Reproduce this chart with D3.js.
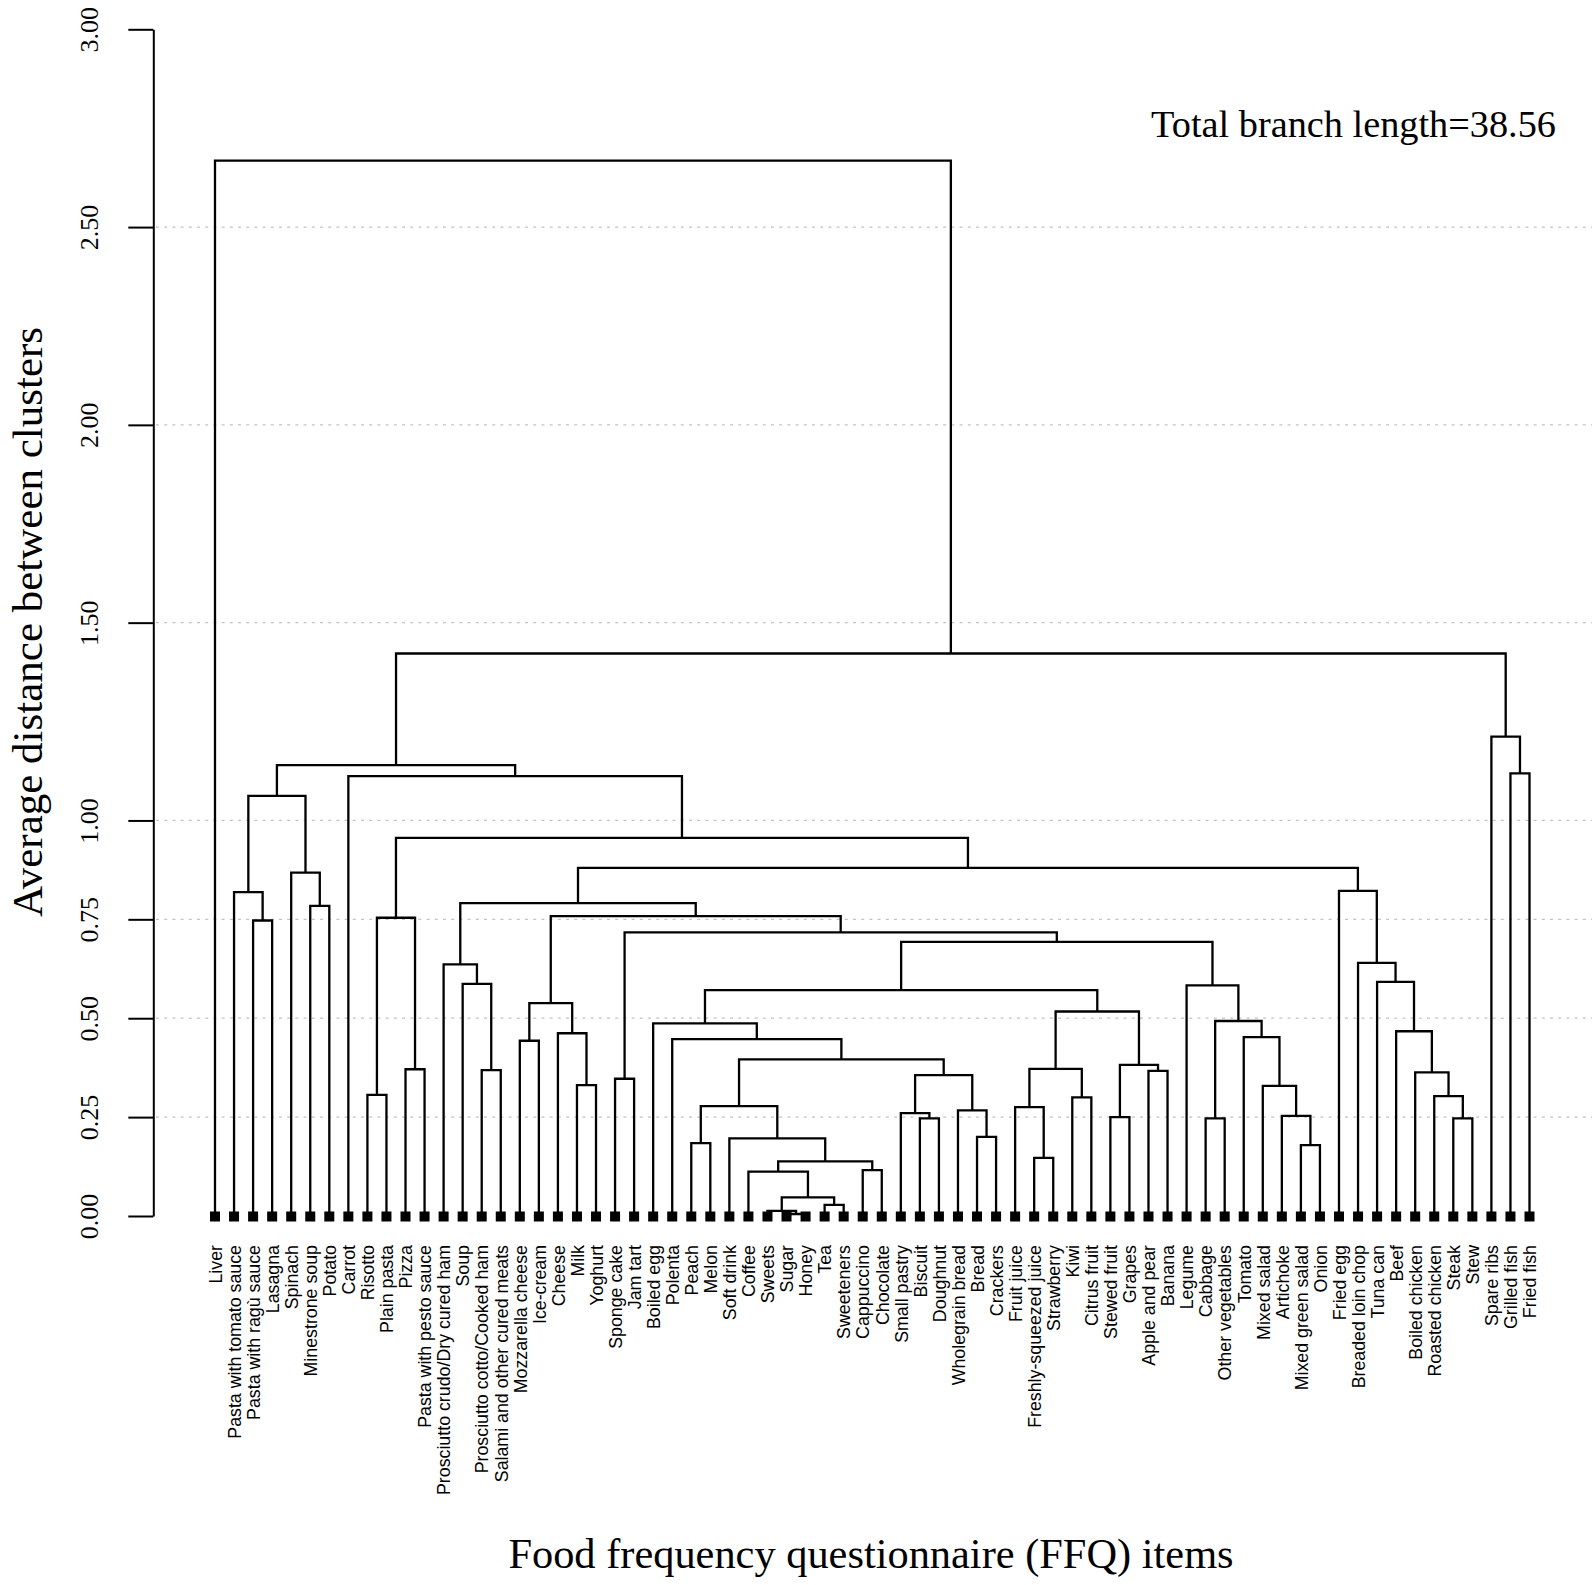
<!DOCTYPE html>
<html>
<head>
<meta charset="utf-8">
<script src="https://cdn.jsdelivr.net/npm/d3@7"></script>
<style>
body { margin: 0; background: #fff; }
</style>
</head>
<body>
<script>
// leaf labels, left to right
var labels = [
  "Liver", "Pasta with tomato sauce", "Pasta with ragù sauce", "Lasagna", "Spinach",
  "Minestrone soup", "Potato", "Carrot", "Risotto", "Plain pasta", "Pizza",
  "Pasta with pesto sauce", "Prosciutto crudo/Dry cured ham", "Soup",
  "Prosciutto cotto/Cooked ham", "Salami and other cured meats", "Mozzarella cheese",
  "Ice-cream", "Cheese", "Milk", "Yoghurt", "Sponge cake", "Jam tart", "Boiled egg",
  "Polenta", "Peach", "Melon", "Soft drink", "Coffee", "Sweets", "Sugar", "Honey", "Tea",
  "Sweeteners", "Cappuccino", "Chocolate", "Small pastry", "Biscuit", "Doughnut",
  "Wholegrain bread", "Bread", "Crackers", "Fruit juice", "Freshly-squeezed juice",
  "Strawberry", "Kiwi", "Citrus fruit", "Stewed fruit", "Grapes", "Apple and pear",
  "Banana", "Legume", "Cabbage", "Other vegetables", "Tomato", "Mixed salad", "Artichoke",
  "Mixed green salad", "Onion", "Fried egg", "Breaded loin chop", "Tuna can", "Beef",
  "Boiled chicken", "Roasted chicken", "Steak", "Stew", "Spare ribs", "Grilled fish",
  "Fried fish"
];

// hclust-like merge table: negative = leaf number, positive = earlier merge row
var merges = [
  [-31, -32], [-30, 1], [-33, -34], [2, 3], [-29, 4], [-35, -36], [5, 6], [-44, -45],
  [-58, -59], [-26, -27], [-28, 7], [-41, -42], [-38, -39], [-53, -54], [-66, -67],
  [-48, -49], [-57, 9], [-37, 13], [-40, 12], [-43, 8], [10, 11], [-46, -47], [-65, 15],
  [-9, -10], [-56, 17], [-20, -21], [-22, -23], [18, 19], [-64, 23], [-50, -51],
  [-15, -16], [-11, -12], [20, 22], [16, 30], [21, 28], [-17, -18], [-25, 35], [-55, 25],
  [-19, 26], [-63, 29], [-24, 37], [14, 38], [33, 34], [36, 39], [41, 43], [-52, 42],
  [-14, 31], [-62, 40], [-13, 47], [-61, 48], [45, 46], [27, 51], [24, 32], [-3, -4],
  [44, 52], [-6, -7], [49, 55], [-2, 54], [-60, 50], [-5, 56], [57, 59], [53, 61],
  [58, 60], [-8, 62], [-69, -70], [63, 64], [-68, 65], [66, 67], [-1, 68]
];

var heights = [
  0.005, 0.013, 0.028, 0.047, 0.112, 0.116, 0.138, 0.147,
  0.179, 0.184, 0.196, 0.200, 0.247, 0.247, 0.247,
  0.250, 0.253, 0.260, 0.267, 0.275, 0.278, 0.300, 0.303,
  0.306, 0.329, 0.331, 0.347, 0.356, 0.363, 0.367,
  0.369, 0.371, 0.372, 0.382, 0.396, 0.443, 0.447, 0.452,
  0.462, 0.467, 0.487, 0.493, 0.517, 0.538, 0.571, 0.583,
  0.587, 0.592, 0.636, 0.640, 0.693, 0.717, 0.754, 0.747,
  0.758, 0.784, 0.791, 0.819, 0.822, 0.868, 0.880, 0.956,
  1.062, 1.112, 1.119, 1.140, 1.212, 1.422, 2.668
];

var yTicks = [0, 0.25, 0.5, 0.75, 1, 1.5, 2, 2.5, 3];
var gridValues = [0.25, 0.5, 0.75, 1, 1.5, 2, 2.5];

var W = 1595, H = 1585;
var serif = "'Liberation Serif', 'Times New Roman', serif";
var sans = "'Liberation Sans', Arial, sans-serif";

var svg = d3.select("body").append("svg")
    .attr("width", W)
    .attr("height", H)
    .style("background", "#fff");

var x = d3.scalePoint().domain(labels).range([215, 1529.5]);
var y = d3.scaleLinear().domain([0, 3]).range([1216, 29.3]);

// dashed grid
svg.append("g")
    .selectAll("line")
    .data(gridValues)
    .enter()
    .append("line")
    .attr("x1", 156)
    .attr("x2", 1592)
    .attr("y1", function(d) { return y(d); })
    .attr("y2", function(d) { return y(d); })
    .style("stroke", "#c4c4c4")
    .style("stroke-width", 1.3)
    .style("stroke-dasharray", "3,5.2");

// y axis
var yAxis = svg.append("g")
    .attr("transform", "translate(153.3,0)")
    .call(d3.axisLeft(y).tickValues(yTicks).tickFormat(d3.format(".2f")).tickSize(25).tickSizeOuter(0));

yAxis.select(".domain").style("stroke", "#000").style("stroke-width", 2);
yAxis.selectAll(".tick line").style("stroke", "#000").style("stroke-width", 2);
yAxis.selectAll(".tick text")
    .attr("transform", "rotate(-90)")
    .attr("x", 0)
    .attr("y", -55)
    .attr("dy", 0)
    .attr("text-anchor", "middle")
    .style("font-family", serif)
    .style("font-size", "26px")
    .style("fill", "#000");

// build the tree from the merge table
var nodes = [];
function getNode(k) {
    if (k < 0) return {x: x(labels[-k - 1]), h: 0};
    return nodes[k - 1];
}
merges.forEach(function(m, i) {
    var a = getNode(m[0]), b = getNode(m[1]);
    nodes.push({a: a, b: b, h: heights[i], x: (a.x + b.x) / 2});
});

svg.append("g")
    .selectAll("path")
    .data(nodes)
    .enter()
    .append("path")
    .attr("d", function(d) {
        return "M" + d.a.x + "," + y(d.a.h) +
            "V" + y(d.h) +
            "H" + d.b.x +
            "V" + y(d.b.h);
    })
    .style("fill", "none")
    .style("stroke", "#000")
    .style("stroke-width", 2.3)
    .style("stroke-linejoin", "miter");

// leaf markers
svg.append("g")
    .selectAll("rect")
    .data(labels)
    .enter()
    .append("rect")
    .attr("x", function(d) { return x(d) - 5; })
    .attr("y", y(0) - 4.5)
    .attr("width", 10)
    .attr("height", 10)
    .style("fill", "#000");

// leaf labels
svg.append("g")
    .selectAll("text")
    .data(labels)
    .enter()
    .append("text")
    .attr("transform", function(d) { return "translate(" + x(d) + ",1245) rotate(-90)"; })
    .attr("dy", "0.38em")
    .attr("text-anchor", "end")
    .style("font-family", sans)
    .style("font-size", "17.8px")
    .style("fill", "#000")
    .text(function(d) { return d; });

// titles
svg.append("text")
    .attr("transform", "translate(42,622) rotate(-90)")
    .attr("text-anchor", "middle")
    .style("font-family", serif)
    .style("font-size", "43px")
    .text("Average distance between clusters");

svg.append("text")
    .attr("x", 871)
    .attr("y", 1568)
    .attr("text-anchor", "middle")
    .style("font-family", serif)
    .style("font-size", "42.4px")
    .text("Food frequency questionnaire (FFQ) items");

svg.append("text")
    .attr("x", 1556)
    .attr("y", 137)
    .attr("text-anchor", "end")
    .style("font-family", serif)
    .style("font-size", "38.3px")
    .text("Total branch length=38.56");
</script>
</body>
</html>
